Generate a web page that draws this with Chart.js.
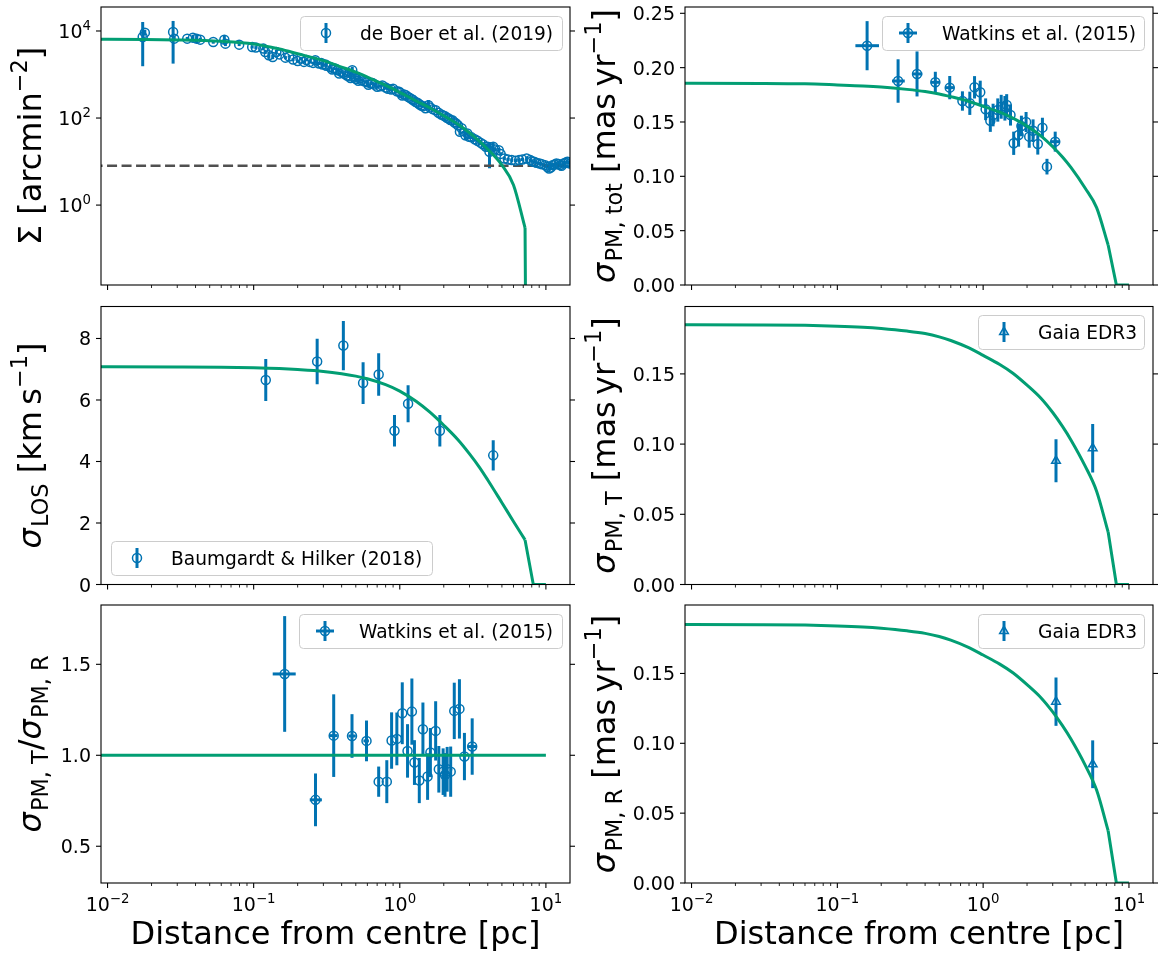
<!DOCTYPE html>
<html>
<head>
<meta charset="utf-8">
<title>Cluster profiles</title>
<script src="https://cdn.jsdelivr.net/npm/chart.js@4.4.1/dist/chart.umd.min.js"></script>
<style>
html,body{margin:0;padding:0;background:#ffffff;}
#wrap{position:relative;width:1163px;height:955px;background:#fff;overflow:hidden;}
#wrap canvas{position:absolute;left:0;top:0;}
</style>
</head>
<body>
<div id="wrap"></div>
<script>
// ---------------- axis ticks ----------------
const xLimits = [0.00902, 14.62];
const xTickValues = [0.01, 0.1, 1, 10];
const xTickLabels = [['10','−2'],['10','−1'],['10','0'],['10','1']];
const xMinorTicks = [0.02,0.03,0.04,0.05,0.06,0.07,0.08,0.09,0.2,0.3,0.4,0.5,0.6,0.7,0.8,0.9,2,3,4,5,6,7,8,9];

const sigmaTicks = [1, 100, 10000];
const sigmaTickLabels = [['10','0'],['10','2'],['10','4']];
const pmTotTicks = [0, 0.05, 0.10, 0.15, 0.20, 0.25];
const pmTotTickLabels = ['0.00','0.05','0.10','0.15','0.20','0.25'];
const losTicks = [0, 2, 4, 6, 8];
const losTickLabels = ['0','2','4','6','8'];
const pmTicks = [0, 0.05, 0.10, 0.15];
const pmTickLabels = ['0.00','0.05','0.10','0.15'];
const ratioTicks = [0.5, 1.0, 1.5];
const ratioTickLabels = ['0.5','1.0','1.5'];

// ---------------- model curves ----------------
const modelR      = [0.005,0.01,0.03,0.06,0.1,0.15,0.2,0.3,0.4,0.5,0.6,0.8,1.0,1.3,1.6,2.0,2.5,3.0,3.5,4.0,5.0,6.0,7.2,8.2,10.0];
const modelSigma  = [6450,6440,6220,5800,5050,3850,3000,2080,1480,1130,870,560,390,245,172,113,72,46,29.5,19.2,8.3,2.9,0.3,1e-30,1e-30];
const modelLOS    = [7.08,7.08,7.075,7.065,7.045,7.02,6.99,6.93,6.855,6.775,6.69,6.50,6.29,5.95,5.61,5.18,4.71,4.25,3.82,3.40,2.66,2.05,1.45,0,0];
const modelPMtot  = [0.1856,0.1856,0.1855,0.1851,0.1841,0.1832,0.1822,0.1800,0.1780,0.1758,0.1733,0.1689,0.1645,0.1590,0.1535,0.1462,0.1370,0.1272,0.1178,0.1082,0.0893,0.0712,0.0368,0,0];
const modelPM     = [0.1850,0.1850,0.1849,0.1846,0.1840,0.1832,0.1823,0.1805,0.1787,0.1764,0.1738,0.1685,0.1632,0.1567,0.1505,0.1420,0.1325,0.1225,0.1126,0.1030,0.0845,0.0665,0.0374,0,0];
const modelSmoothEnd = 22;   // index (7.2 pc) after which the sampled model is joined by straight segments
const modelRatioR = [0.005, 10.0];
const modelRatio  = [1.0, 1.0];
const backgroundR = [0.005, 20];
const backgroundLevel = [8.0, 8.0];

// ---------------- de Boer et al. (2019) surface density ----------------
const boerR  = [0.0174,0.0180,0.0281,0.0286,0.0351,0.0384,0.0407,0.0431,0.0529,0.0630,0.0641,0.0796,0.0977,0.1035,0.1164,0.120,0.127,0.135,0.143,0.165,0.186,0.209,0.221,0.242,0.264,0.280,0.296,0.314,0.333,0.353,0.375,0.397,0.421,0.447,0.473,0.487,0.502,0.548,0.598,0.634,0.672,0.733,0.801,0.875,0.955,1.01,1.07,1.14,1.21,1.28,1.36,1.44,1.57,1.61,1.76,1.92,2.04,2.16,2.29,2.43,2.50,2.58,2.81,2.98,3.26,3.56,3.88,4.11,4.36,4.76,5.20,5.84,6.56,7.38,7.82,8.29,9.05,9.89,10.5,11.1,11.8,12.5,13.2,14.0,14.6];
const boerS  = [7280,9160,9490,6670,6670,7030,6670,6320,5590,6320,5120,4860,4290,4150,3940,3300,2770,2530,3300,2440,2200,2320,1950,1950,2120,1780,1690,1580,1490,1370,1250,1150,1020,915,1250,855,790,738,660,619,588,538,500,450,413,378,347,306,271,235,208,187,197,175,151,121,110,97.4,89.2,74.8,68,48.2,40.4,37.0,32.5,27.2,21.8,16.7,21.8,18.2,11.8,10.8,10.8,11.8,10.8,9.87,9.04,8.28,6.94,8.28,9.04,8.28,9.04,9.87,9.04];
const boerLo = [1550,7800,1780,6000,6100,6000,5300,5700,5100,5000,4500,4500,3950,3800,3600,2950,2300,2250,2950,2250,2030,2140,1800,1800,1750,1650,1560,1460,1380,1270,1160,1060,940,840,1050,790,730,680,610,570,540,495,460,415,380,345,318,280,248,215,190,171,150,160,138,110,100,88,80,67,61,40,31,33,29,24,18.5,7,17,16,10.7,9.9,9.9,10.7,9.9,9.0,8.3,7.6,6.3,7.6,8.3,7.6,8.3,9.0,8.3];
const boerHi = [16070,10700,17000,7400,7300,8200,8300,7000,6100,7900,5800,5250,4650,4500,4300,3700,3300,2850,3700,2650,2380,2500,2110,2110,2550,1920,1830,1710,1610,1480,1350,1240,1100,990,1500,920,850,800,710,670,635,580,540,485,445,410,376,332,294,255,226,203,260,190,164,132,120,107,98,83,75,57,52,41,36,31,25.5,28,27,20.5,13,11.8,11.8,13,11.8,10.8,9.9,9.0,7.6,9.0,9.9,9.0,9.9,10.8,9.9];
// further de Boer bins that thicken the dense band
const boerR2   = [0.150,0.175,0.200,0.230,0.255,0.290,0.310,0.345,0.365,0.385,0.410,0.435,0.460,0.495,0.520,0.530,0.570,0.610,0.650,0.700,0.760,0.830,0.900,0.990,1.04,1.10,1.17,1.24,1.32,1.40,1.50,1.68,1.84,1.98,2.10,2.22,2.36,2.65,2.90,3.10,3.40,3.70,4.00,4.50,4.90,5.50,6.20,6.90,8.00,8.60,9.40,10.2,10.8,11.5,12.2,12.8,13.6,14.3];
const boerS2   = [2900,2600,2050,2150,1850,1850,1700,1300,1350,1050,1100,950,830,900,720,820,700,580,640,520,560,470,470,400,330,335,290,255,225,195,168,160,132,115,102,90,80,58,44,36,30,25,22,19,15,11.2,10.5,11.2,10.2,9.4,8.7,7.6,7.3,8.6,8.8,8.0,9.4,9.6];
const boerErr2 = [190,170,140,140,120,120,110,90,90,70,75,65,55,60,50,55,45,40,42,35,38,32,32,27,23,23,20,18,16,14,12,11,9,8,7,6,6,4.5,3.5,3,2.6,2.2,2,1.7,1.4,0.9,0.8,0.9,0.8,0.75,0.7,0.65,0.6,0.7,0.7,0.65,0.75,0.8];

// ---------------- Watkins et al. (2015) total PM dispersion ----------------
const wTotR   = [0.160,0.261,0.352,0.470,0.590,0.721,0.810,0.873,0.955,1.04,1.12,1.17,1.26,1.33,1.41,1.45,1.54,1.62,1.75,1.83,1.97,2.07,2.20,2.37,2.55,2.74,3.12];
const wTotV   = [0.2202,0.1877,0.1942,0.1865,0.1816,0.1693,0.1672,0.1819,0.1773,0.1617,0.1512,0.1564,0.1610,0.1640,0.1626,0.1656,0.1564,0.1304,0.1380,0.1463,0.1500,0.1365,0.1420,0.1298,0.1448,0.1089,0.1319];
const wTotErr = [0.0226,0.0200,0.0207,0.0097,0.0107,0.0089,0.0107,0.0103,0.0107,0.0100,0.0103,0.0104,0.0107,0.0110,0.0113,0.0100,0.0097,0.0107,0.0107,0.0095,0.0092,0.0102,0.0104,0.0098,0.0091,0.0072,0.0092];
const wTotRLo = [0.133,0.237,0.327,0.438,0.553,0.721,0.810,0.873,0.955,1.04,1.12,1.17,1.26,1.33,1.41,1.45,1.54,1.62,1.75,1.83,1.97,2.07,2.20,2.37,2.55,2.74,2.90];
const wTotRHi = [0.193,0.290,0.383,0.501,0.634,0.721,0.810,0.873,0.955,1.04,1.12,1.17,1.26,1.33,1.41,1.45,1.54,1.62,1.75,1.83,1.97,2.07,2.20,2.37,2.55,2.74,3.37];

// ---------------- Watkins et al. (2015) anisotropy ratio ----------------
const wRatR   = [0.163,0.265,0.353,0.471,0.592,0.717,0.815,0.879,0.955,1.04,1.13,1.21,1.26,1.36,1.44,1.55,1.62,1.76,1.85,1.98,2.04,2.11,2.23,2.36,2.56,2.77,3.13];
const wRatV   = [1.447,0.755,1.108,1.106,1.079,0.855,0.855,1.081,1.090,1.231,1.024,1.240,0.960,0.861,1.143,0.883,1.015,1.134,0.923,0.910,0.892,0.923,0.910,1.244,1.255,0.993,1.048];
const wRatErr = [0.318,0.145,0.227,0.120,0.112,0.083,0.118,0.155,0.145,0.170,0.147,0.182,0.123,0.124,0.147,0.128,0.135,0.163,0.128,0.128,0.120,0.123,0.138,0.155,0.163,0.130,0.155];
const wRatRLo = [0.135,0.242,0.333,0.445,0.564,0.717,0.815,0.879,0.955,1.04,1.13,1.21,1.26,1.36,1.44,1.55,1.62,1.76,1.85,1.98,2.04,2.11,2.23,2.36,2.56,2.77,2.92];
const wRatRHi = [0.194,0.293,0.375,0.500,0.615,0.717,0.815,0.879,0.955,1.04,1.13,1.21,1.26,1.36,1.44,1.55,1.62,1.76,1.85,1.98,2.04,2.11,2.23,2.36,2.56,2.77,3.36];

// ---------------- Baumgardt & Hilker (2018) LOS dispersion ----------------
const bhR   = [0.121,0.272,0.411,0.561,0.717,0.920,1.14,1.88,4.36];
const bhV   = [6.65,7.25,7.77,6.55,6.83,5.00,5.88,5.00,4.20];
const bhErr = [0.68,0.74,0.80,0.68,0.69,0.51,0.60,0.51,0.49];

// ---------------- Gaia EDR3 ----------------
const gaiaR    = [3.16, 5.64];
const gaiaT    = [0.0881, 0.0971];
const gaiaTErr = [0.0153, 0.0173];
const gaiaRad    = [0.1298, 0.0850];
const gaiaRadErr = [0.0173, 0.0171];

// ---------------- styling / helpers ----------------
const W = 1163, H = 955;
const BLUE = '#0173B2', GREEN = '#029E73', DASH = '#505050';
const FAMILY = '"DejaVu Sans", "Liberation Sans", sans-serif';
const TICK_SIZE = 19, LABEL_SIZE = 32, LEGEND_SIZE = 18.6;
const wrap = document.getElementById('wrap');

function fnt(size, italic){ return (italic ? 'italic ' : '') + size.toFixed(2) + 'px ' + FAMILY; }
function richLayout(ctx, segs, size){
  let w = 0; const items = [];
  segs.forEach(s => {
    const small = s.sub || s.sup;
    const sz = small ? size*0.7 : size;
    const f = fnt(sz, s.it);
    ctx.font = f;
    const mw = ctx.measureText(s.t).width;
    const dy = s.sub ? size*0.22 : (s.sup ? -size*0.43 : 0);
    items.push({t:s.t, f:f, x:w, dy:dy});
    w += mw + (s.it ? size*0.04 : 0);
  });
  return {items:items, w:w};
}
function drawRich(ctx, segs, size, x, y, align){
  const L = richLayout(ctx, segs, size);
  const x0 = align === 'center' ? x - L.w/2 : (align === 'right' ? x - L.w : x);
  ctx.textAlign = 'left'; ctx.textBaseline = 'alphabetic';
  L.items.forEach(it => { ctx.font = it.f; ctx.fillText(it.t, x0 + it.x, y + it.dy); });
}
function toSegs(lbl){ return Array.isArray(lbl) ? [{t:lbl[0]},{t:lbl[1],sup:true}] : [{t:lbl}]; }
function pts(xs, ys){ return xs.map((x,i)=>({x:x, y:ys[i]})); }
function roundRect(ctx,x,y,w,h,r){
  ctx.beginPath(); ctx.moveTo(x+r,y);
  ctx.arcTo(x+w,y,x+w,y+h,r); ctx.arcTo(x+w,y+h,x,y+h,r);
  ctx.arcTo(x,y+h,x,y,r); ctx.arcTo(x,y,x+w,y,r); ctx.closePath();
}

const errPlugin = {
  id: 'errbars',
  beforeDatasetsDraw(chart){
    const ctx = chart.ctx, xs = chart.scales.x, ys = chart.scales.y, a = chart.chartArea;
    ctx.save();
    ctx.beginPath(); ctx.rect(a.left, a.top, a.right-a.left, a.bottom-a.top); ctx.clip();
    ctx.strokeStyle = BLUE; ctx.lineWidth = 3; ctx.lineCap = 'butt';
    chart.data.datasets.forEach(ds => {
      if (!ds.err) return;
      const e = ds.err;
      ds.data.forEach((p,i) => {
        const px = xs.getPixelForValue(p.x), py = ys.getPixelForValue(p.y);
        if (e.yLo) {
          ctx.beginPath(); ctx.moveTo(px, ys.getPixelForValue(e.yLo[i])); ctx.lineTo(px, ys.getPixelForValue(e.yHi[i])); ctx.stroke();
        }
        if (e.xLo && e.xLo[i] !== e.xHi[i]) {
          ctx.beginPath(); ctx.moveTo(xs.getPixelForValue(e.xLo[i]), py); ctx.lineTo(xs.getPixelForValue(e.xHi[i]), py); ctx.stroke();
        }
      });
    });
    ctx.restore();
  }
};

function makeAxesPlugin(cfg){
  return {
    id: 'axesDraw',
    afterDraw(chart){
      const ctx = chart.ctx, a = chart.chartArea, xs = chart.scales.x, ys = chart.scales.y;
      ctx.save();
      ctx.strokeStyle = '#000'; ctx.fillStyle = '#000';
      const line = (x1,y1,x2,y2,w)=>{ ctx.lineWidth = w; ctx.beginPath(); ctx.moveTo(x1,y1); ctx.lineTo(x2,y2); ctx.stroke(); };
      xTickValues.forEach((v,i) => {
        const px = xs.getPixelForValue(v);
        line(px, a.bottom, px, a.bottom+5, 1.1);
        if (cfg.xLabels) drawRich(ctx, toSegs(xTickLabels[i]), TICK_SIZE, px, a.bottom+28, 'center');
      });
      xMinorTicks.forEach(v => { const px = xs.getPixelForValue(v); line(px, a.bottom, px, a.bottom+3, 0.85); });
      cfg.yTicks.forEach((v,i) => {
        const py = ys.getPixelForValue(v);
        line(a.left-5, py, a.left, py, 1.1);
        line(a.right, py, a.right+5, py, 1.1);
        drawRich(ctx, toSegs(cfg.yTickLabels[i]), TICK_SIZE, a.left-10, py+7, 'right');
      });
      ctx.lineWidth = 1.1;
      ctx.strokeRect(a.left, a.top, a.right-a.left, a.bottom-a.top);
      ctx.save();
      ctx.translate(cfg.ylabelX, (a.top+a.bottom)/2);
      ctx.rotate(-Math.PI/2);
      drawRich(ctx, cfg.ylabel, LABEL_SIZE, 0, 0, 'center');
      ctx.restore();
      if (cfg.xLabels) drawRich(ctx, [{t:'Distance from centre [pc]'}], LABEL_SIZE, (a.left+a.right)/2, a.bottom+61, 'center');
      const L = cfg.legend;
      ctx.save();
      roundRect(ctx, L.x+0.5, L.y+0.5, L.w, L.h, 4);
      ctx.fillStyle = 'rgba(255,255,255,0.8)'; ctx.fill();
      ctx.strokeStyle = '#cccccc'; ctx.lineWidth = 1; ctx.stroke();
      const cx = L.x + 26, cy = L.y + L.h/2;
      ctx.strokeStyle = BLUE; ctx.lineWidth = 3;
      ctx.beginPath(); ctx.moveTo(cx, cy-10); ctx.lineTo(cx, cy+10); ctx.stroke();
      if (L.hbar) { ctx.beginPath(); ctx.moveTo(cx-9, cy); ctx.lineTo(cx+9, cy); ctx.stroke(); }
      ctx.lineWidth = 1.5;
      if (L.marker === 'triangle') {
        ctx.beginPath();
        for (let k=0;k<3;k++){ const ang = k*2*Math.PI/3; const X = cx+Math.sin(ang)*5, Y = cy-Math.cos(ang)*5; if(k===0) ctx.moveTo(X,Y); else ctx.lineTo(X,Y); }
        ctx.closePath(); ctx.stroke();
      } else {
        ctx.beginPath(); ctx.arc(cx, cy, 4.5, 0, 2*Math.PI); ctx.stroke();
      }
      ctx.fillStyle = '#000';
      drawRich(ctx, [{t:L.text}], LEGEND_SIZE, L.x+60, cy+6.5, 'left');
      ctx.restore();
      ctx.restore();
    }
  };
}

function lineDS(xs, ys, smooth){
  return {data: pts(xs, ys), showLine:true, borderColor:GREEN, borderWidth:3, pointRadius:0, tension:0,
          cubicInterpolationMode: smooth ? 'monotone' : 'default', fill:false, order:1, clip:0,
          borderCapStyle:'butt', borderJoinStyle:'round'};
}
function modelSets(xs, ys){
  return [
    lineDS(xs.slice(0, modelSmoothEnd+1), ys.slice(0, modelSmoothEnd+1), true),
    lineDS(xs.slice(modelSmoothEnd), ys.slice(modelSmoothEnd), false)
  ];
}
function dataDS(xs, ys, err, style){
  return {data: pts(xs, ys), showLine:false, pointStyle: style || 'circle', pointRadius: style === 'triangle' ? 5 : 4.5,
          pointBorderWidth:1.5, pointBorderColor:BLUE, pointBackgroundColor:'rgba(0,0,0,0)',
          borderColor:BLUE, backgroundColor:'rgba(0,0,0,0)', order:2, err:err, clip:0};
}
function symErr(v, e){ return {yLo: v.map((x,i)=>x-e[i]), yHi: v.map((x,i)=>x+e[i])}; }

function panel(area, yType, yMin, yMax, datasets, cfg){
  const cv = document.createElement('canvas');
  cv.width = W; cv.height = H; cv.style.width = W+'px'; cv.style.height = H+'px';
  wrap.appendChild(cv);
  return new Chart(cv, {
    type: 'scatter',
    data: {datasets: datasets},
    options: {
      responsive:false, animation:false, devicePixelRatio:1, events:[],
      layout: {padding: {left: area.l, top: area.t, right: W-area.r, bottom: H-area.b}},
      scales: {
        x: {type:'logarithmic', min:xLimits[0], max:xLimits[1], display:false},
        y: {type:yType, min:yMin, max:yMax, display:false}
      },
      plugins: {legend:{display:false}, tooltip:{enabled:false}}
    },
    plugins: [errPlugin, makeAxesPlugin(cfg)]
  });
}

const COL_L = {l:101, r:570}, COL_R = {l:685, r:1153};
const ROWS = [{t:7, b:285}, {t:306.5, b:584.5}, {t:605, b:883}];
const area = (c, r) => ({l:c.l, r:c.r, t:r.t, b:r.b});
const YL_LEFT = 41, YL_RIGHT = 615;

// Panel 1: surface density
panel(area(COL_L, ROWS[0]), 'logarithmic', 0.01459, 35570, [
  Object.assign(lineDS(backgroundR, backgroundLevel, false), {borderColor:DASH, borderWidth:2.5, borderDash:[10,4.5], order:3}),
  ...modelSets(modelR, modelSigma),
  dataDS(boerR, boerS, {yLo:boerLo, yHi:boerHi}),
  dataDS(boerR2, boerS2, symErr(boerS2, boerErr2))
], {yTicks:sigmaTicks, yTickLabels:sigmaTickLabels, xLabels:false, ylabelX:YL_LEFT,
    ylabel:[{t:'Σ [arcmin'},{t:'−2',sup:true},{t:']'}],
    legend:{x:300, y:16, w:262, h:34, text:'de Boer et al. (2019)', marker:'circle'}});

// Panel 2: total PM dispersion
panel(area(COL_R, ROWS[0]), 'linear', 0, 0.2558, [
  ...modelSets(modelR, modelPMtot),
  dataDS(wTotR, wTotV, Object.assign(symErr(wTotV, wTotErr), {xLo:wTotRLo, xHi:wTotRHi}))
], {yTicks:pmTotTicks, yTickLabels:pmTotTickLabels, xLabels:false, ylabelX:YL_RIGHT,
    ylabel:[{t:'σ',it:true},{t:'PM, tot',sub:true},{t:' [mas\u2009yr'},{t:'−1',sup:true},{t:']'}],
    legend:{x:882, y:16, w:262, h:34, text:'Watkins et al. (2015)', marker:'circle', hbar:true}});

// Panel 3: LOS dispersion
panel(area(COL_L, ROWS[1]), 'linear', 0, 9.04, [
  ...modelSets(modelR, modelLOS),
  dataDS(bhR, bhV, symErr(bhV, bhErr))
], {yTicks:losTicks, yTickLabels:losTickLabels, xLabels:false, ylabelX:YL_LEFT,
    ylabel:[{t:'σ',it:true},{t:'LOS',sub:true},{t:' [km\u2009s'},{t:'−1',sup:true},{t:']'}],
    legend:{x:111, y:541, w:321, h:34, text:'Baumgardt & Hilker (2018)', marker:'circle'}});

// Panel 4: tangential PM
panel(area(COL_R, ROWS[1]), 'linear', 0, 0.198, [
  ...modelSets(modelR, modelPM),
  dataDS(gaiaR, gaiaT, symErr(gaiaT, gaiaTErr), 'triangle')
], {yTicks:pmTicks, yTickLabels:pmTickLabels, xLabels:false, ylabelX:YL_RIGHT,
    ylabel:[{t:'σ',it:true},{t:'PM, T',sub:true},{t:' [mas\u2009yr'},{t:'−1',sup:true},{t:']'}],
    legend:{x:978, y:315, w:166, h:34, text:'Gaia EDR3', marker:'triangle'}});

// Panel 5: anisotropy ratio
panel(area(COL_L, ROWS[2]), 'linear', 0.298, 1.826, [
  lineDS(modelRatioR, modelRatio, false),
  dataDS(wRatR, wRatV, Object.assign(symErr(wRatV, wRatErr), {xLo:wRatRLo, xHi:wRatRHi}))
], {yTicks:ratioTicks, yTickLabels:ratioTickLabels, xLabels:true, ylabelX:YL_LEFT,
    ylabel:[{t:'σ',it:true},{t:'PM, T',sub:true},{t:'/'},{t:'σ',it:true},{t:'PM, R',sub:true}],
    legend:{x:299, y:614, w:263, h:34, text:'Watkins et al. (2015)', marker:'circle', hbar:true}});

// Panel 6: radial PM
panel(area(COL_R, ROWS[2]), 'linear', 0, 0.199, [
  ...modelSets(modelR, modelPM),
  dataDS(gaiaR, gaiaRad, symErr(gaiaRad, gaiaRadErr), 'triangle')
], {yTicks:pmTicks, yTickLabels:pmTickLabels, xLabels:true, ylabelX:YL_RIGHT,
    ylabel:[{t:'σ',it:true},{t:'PM, R',sub:true},{t:' [mas\u2009yr'},{t:'−1',sup:true},{t:']'}],
    legend:{x:978, y:614, w:166, h:34, text:'Gaia EDR3', marker:'triangle'}});
</script>
</body>
</html>
